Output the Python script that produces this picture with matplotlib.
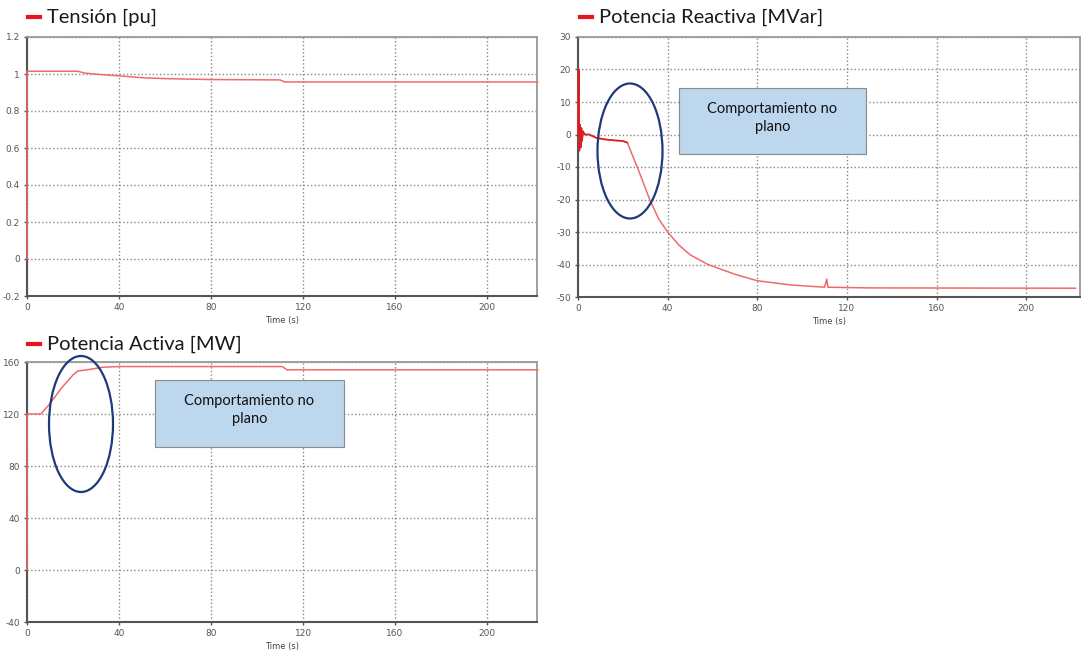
import numpy as np
import matplotlib.pyplot as plt
from matplotlib.patches import Ellipse, Rectangle
from matplotlib.lines import Line2D

# readings from the simulation plots (time in s)
t_volt = [0, 0, 22, 25, 32, 40, 50, 60, 80, 110, 112, 222]
volt = [0, 1.015, 1.015, 1.005, 0.997, 0.99, 0.98, 0.975, 0.97, 0.968, 0.957, 0.957]

t_q = [0, 0.3, 0.6, 0.9, 1.2, 1.5, 1.8, 2.2, 3, 5, 8, 12, 16, 20, 22, 27, 32,
       36, 40, 45, 50, 58, 70, 80, 95, 110, 111, 111.5, 112, 130, 222]
q = [0, 20, -5, 3, -4, 2, -2, 1, 0, 0, -1, -1.5, -1.8, -2, -2.5, -11, -20,
     -26, -30, -34, -37, -40, -43, -45, -46.3, -47, -44.5, -47, -47, -47.2, -47.3]

t_p = [0, 0, 6, 10, 15, 20, 22, 28, 33, 40, 111, 113, 222]
p = [0, 120, 120, 128, 140, 150, 153, 154.5, 156, 156.5, 156.5, 154, 154]

titles = ["Tensión [pu]", "Potencia Reactiva [MVar]", "Potencia Activa [MW]"]
note = "Comportamiento no\nplano"
xticks = [0, 40, 80, 120, 160, 200]

W, H = 1081, 654
fig = plt.figure(figsize=(W / 100, H / 100), dpi=100)


def box(l, r, t, b):
    return [l / W, 1 - b / H, (r - l) / W, (b - t) / H]


def style(ax, xmax, ylim, yticks, ylabels):
    ax.set_xlim(0, xmax)
    ax.set_ylim(*ylim)
    ax.set_xticks(xticks)
    ax.set_yticks(yticks)
    ax.set_yticklabels(ylabels)
    ax.tick_params(labelsize=6.5, colors='#555555', length=2, width=1, pad=3)
    ax.grid(True, linestyle=':', color='#888888', linewidth=1)
    for s in ['left', 'bottom']:
        ax.spines[s].set_color('#555555')
        ax.spines[s].set_linewidth(1.5)
    for s in ['top', 'right']:
        ax.spines[s].set_color('#999999')
        ax.spines[s].set_linewidth(1.3)
    ax.set_xlabel('Time (s)', fontsize=6, color='#444444', labelpad=3)


def title(x0, y, text):
    fig.add_artist(Line2D([x0 / W, (x0 + 12) / W], [1 - y / H, 1 - y / H],
                          color='#e8141c', lw=3, transform=fig.transFigure))
    fig.text((x0 + 19) / W, 1 - y / H, text, fontsize=14.5, family='Lato',
             va='center', ha='left', color='#1a1a1a')


def annot(l, r, t, b, ecx, ecy, ew, eh):
    fig.add_artist(Rectangle((l / W, 1 - b / H), (r - l) / W, (b - t) / H,
                             transform=fig.transFigure, facecolor='#bdd7ee',
                             edgecolor='#8a8a8a', lw=0.8))
    fig.text((l + r) / 2 / W, 1 - (t + 30) / H, note, ha='center', va='center',
             fontsize=10.5, family='Lato', color='#111111', linespacing=1.3)
    fig.add_artist(Ellipse((ecx / W, 1 - ecy / H), ew / W, eh / H,
                           transform=fig.transFigure, fill=False,
                           edgecolor='#1f3a7a', lw=1.6))


red = '#f06a6a'

ax1 = fig.add_axes(box(27, 537, 37, 296))
ax1.plot(t_volt, volt, color=red, lw=1.1, clip_on=False, zorder=3)
style(ax1, 221.7, (-0.2, 1.2), np.arange(-0.2, 1.21, 0.2),
      ['-0.2', '0', '0.2', '0.4', '0.6', '0.8', '1', '1.2'])
title(28, 17, titles[0])

ax2 = fig.add_axes(box(578, 1080, 37, 297))
ax2.plot(t_q, q, color=red, lw=1.1, clip_on=False, zorder=3)
k = t_q.index(22) + 1
ax2.plot(t_q[:k], q[:k], color='#d81e1e', lw=1.2, clip_on=False, zorder=3)
style(ax2, 224, (-50, 30), np.arange(-50, 31, 10),
      [str(v) for v in range(-50, 31, 10)])
title(580, 17, titles[1])

ax3 = fig.add_axes(box(27, 537, 362, 622))
ax3.plot(t_p, p, color=red, lw=1.1, clip_on=False, zorder=3)
style(ax3, 221.7, (-40, 160), np.arange(-40, 161, 40),
      [str(v) for v in range(-40, 161, 40)])
title(28, 344, titles[2])

annot(679, 866, 88, 154, 630, 151, 65, 135)
annot(155, 344, 380, 447, 81, 424, 64, 136)

fig.savefig('out.png', dpi=100)
